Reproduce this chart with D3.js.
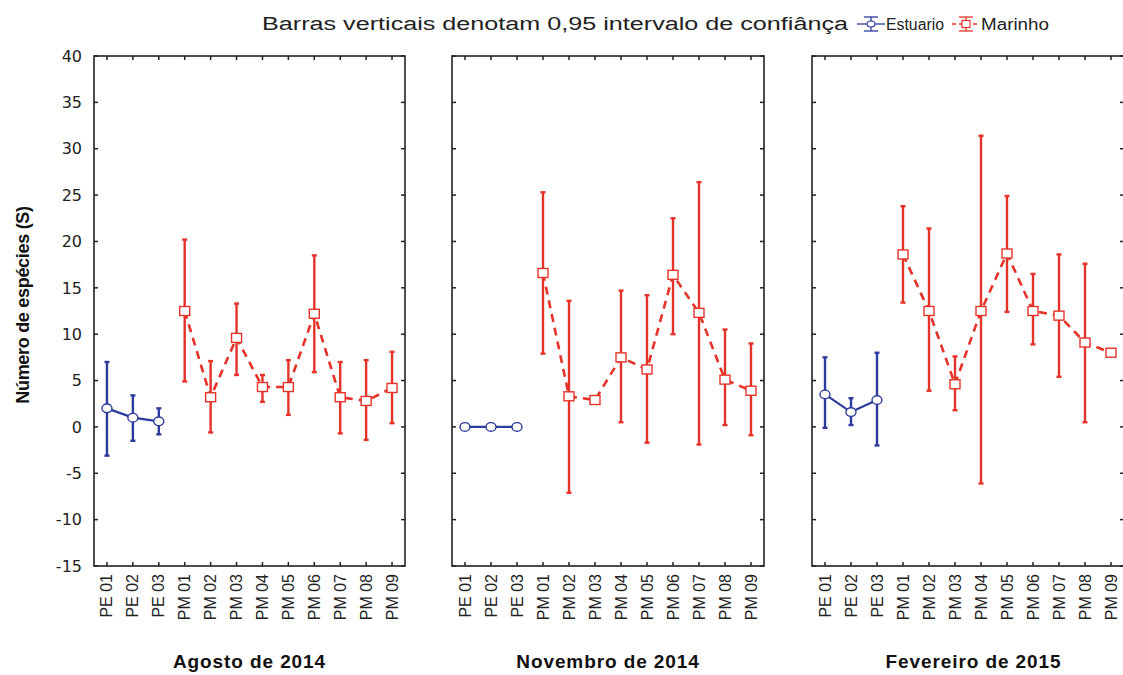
<!DOCTYPE html>
<html>
<head>
<meta charset="utf-8">
<script src="https://cdn.jsdelivr.net/npm/d3@7"></script>
<style>
  html, body { margin: 0; padding: 0; background: #fff; }
  svg { display: block; }
</style>
</head>
<body>
<svg id="chart" width="1123" height="675"></svg>
<script>
// ---------- data ----------
const categories = ["PE 01","PE 02","PE 03","PM 01","PM 02","PM 03","PM 04","PM 05","PM 06","PM 07","PM 08","PM 09"];
const estuarioCats = ["PE 01","PE 02","PE 03"];
const marinhoCats = ["PM 01","PM 02","PM 03","PM 04","PM 05","PM 06","PM 07","PM 08","PM 09"];
const periods = ["Agosto de 2014","Novembro de 2014","Fevereiro de 2015"];
const yTicks = [40,35,30,25,20,15,10,5,0,-5,-10,-15];

// Agosto de 2014
const agoEstMean = [2.0, 1.0, 0.6];
const agoEstLow  = [-3.1, -1.5, -0.8];
const agoEstHigh = [7.0, 3.4, 2.0];
const agoMarMean = [12.5, 3.2, 9.6, 4.3, 4.3, 12.2, 3.2, 2.8, 4.2];
const agoMarLow  = [4.9, -0.6, 5.6, 2.7, 1.3, 5.9, -0.7, -1.4, 0.4];
const agoMarHigh = [20.2, 7.1, 13.3, 5.6, 7.2, 18.5, 7.0, 7.2, 8.1];

// Novembro de 2014
const novEstMean = [0, 0, 0];
const novEstLow  = [0, 0, 0];
const novEstHigh = [0, 0, 0];
const novMarMean = [16.6, 3.3, 2.9, 7.5, 6.2, 16.4, 12.3, 5.1, 3.9];
const novMarLow  = [7.9, -7.1, 2.9, 0.5, -1.7, 10.0, -1.9, 0.2, -0.9];
const novMarHigh = [25.3, 13.6, 2.9, 14.7, 14.2, 22.5, 26.4, 10.5, 9.0];

// Fevereiro de 2015
const fevEstMean = [3.5, 1.6, 2.9];
const fevEstLow  = [-0.1, 0.2, -2.0];
const fevEstHigh = [7.5, 3.1, 8.0];
const fevMarMean = [18.6, 12.5, 4.6, 12.5, 18.7, 12.5, 12.0, 9.1, 8.0];
const fevMarLow  = [13.4, 3.9, 1.8, -6.1, 12.4, 8.9, 5.4, 0.5, 8.0];
const fevMarHigh = [23.8, 21.4, 7.6, 31.4, 24.9, 16.5, 18.6, 17.6, 8.0];

const estMeans = [agoEstMean, novEstMean, fevEstMean];
const estLows  = [agoEstLow, novEstLow, fevEstLow];
const estHighs = [agoEstHigh, novEstHigh, fevEstHigh];
const marMeans = [agoMarMean, novMarMean, fevMarMean];
const marLows  = [agoMarLow, novMarLow, fevMarLow];
const marHighs = [agoMarHigh, novMarHigh, fevMarHigh];

// ---------- layout ----------
const BLUE = "#2c3c9c";
const RED = "#e5332a";
const panelX = [[94, 405], [452, 764], [812, 1124]];
const plotTop = 56, plotBottom = 566;
const svg = d3.select("#chart");

const y = d3.scaleLinear().domain([-15, 40]).range([plotBottom, plotTop]);

// y tick labels (left of first panel)
svg.append("g")
  .selectAll("text").data(yTicks).join("text")
  .attr("x", 82).attr("y", d => y(d)).attr("dy", "0.36em")
  .attr("text-anchor", "end")
  .attr("font-family", "'DejaVu Sans', sans-serif")
  .attr("font-size", 16).attr("fill", "#222")
  .text(d => d);

// y-axis title
svg.append("text")
  .attr("transform", `translate(29,${(plotTop + plotBottom) / 2 - 6}) rotate(-90)`)
  .attr("text-anchor", "middle")
  .attr("font-family", "'Liberation Sans', Arial, sans-serif")
  .attr("font-weight", "bold").attr("font-size", 18).attr("fill", "#111")
  .attr("letter-spacing", -0.3)
  .text("Número de espécies (S)");

periods.forEach((p, i) => {
  const [x0, x1] = panelX[i];
  const x = d3.scalePoint().domain(categories).range([x0, x1]).padding(0.5);
  const g = svg.append("g");

  // frame
  g.append("rect").attr("x", x0).attr("y", plotTop).attr("width", x1 - x0).attr("height", plotBottom - plotTop)
    .attr("fill", "none").attr("stroke", "#222").attr("stroke-width", 1.6);

  // inward ticks: top/bottom at categories
  const tl = 4;
  g.append("g").selectAll("line").data(categories).join("line")
    .attr("x1", d => x(d)).attr("x2", d => x(d)).attr("y1", plotTop).attr("y2", plotTop + tl)
    .attr("stroke", "#222").attr("stroke-width", 1.5);
  g.append("g").selectAll("line").data(categories).join("line")
    .attr("x1", d => x(d)).attr("x2", d => x(d)).attr("y1", plotBottom).attr("y2", plotBottom - tl)
    .attr("stroke", "#222").attr("stroke-width", 1.5);
  // inward ticks: left/right at y values
  g.append("g").selectAll("line").data(yTicks).join("line")
    .attr("x1", x0).attr("x2", x0 + tl).attr("y1", d => y(d)).attr("y2", d => y(d))
    .attr("stroke", "#222").attr("stroke-width", 1.5);
  g.append("g").selectAll("line").data(yTicks).join("line")
    .attr("x1", x1).attr("x2", x1 - tl).attr("y1", d => y(d)).attr("y2", d => y(d))
    .attr("stroke", "#222").attr("stroke-width", 1.5);

  // x labels (rotated)
  g.append("g").selectAll("text").data(categories).join("text")
    .attr("transform", d => `translate(${x(d) + 5.5},${plotBottom + 8}) rotate(-90)`)
    .attr("text-anchor", "end")
    .attr("font-family", "'Liberation Sans', Arial, sans-serif")
    .attr("font-size", 16).attr("fill", "#222")
    .text(d => d);

  // panel title
  g.append("text")
    .attr("x", (x0 + Math.min(x1, 1123)) / 2 + (i === 2 ? 6 : 0)).attr("y", 668)
    .attr("text-anchor", "middle")
    .attr("font-family", "'Liberation Sans', Arial, sans-serif")
    .attr("font-weight", "bold").attr("font-size", 19).attr("fill", "#111")
    .attr("letter-spacing", 0.9)
    .text(p);

  const est = estuarioCats.map((c, k) => ({c, m: estMeans[i][k], lo: estLows[i][k], hi: estHighs[i][k]}));
  const mar = marinhoCats.map((c, k) => ({c, m: marMeans[i][k], lo: marLows[i][k], hi: marHighs[i][k]}));

  const drawErr = (data, color) => {
    const eg = g.append("g").attr("stroke", color).attr("stroke-width", 2.4);
    data.filter(d => d.hi - d.lo > 0.05).forEach(d => {
      eg.append("line").attr("x1", x(d.c)).attr("x2", x(d.c)).attr("y1", y(d.lo)).attr("y2", y(d.hi));
      eg.append("line").attr("x1", x(d.c) - 2.5).attr("x2", x(d.c) + 2.5).attr("y1", y(d.lo)).attr("y2", y(d.lo));
      eg.append("line").attr("x1", x(d.c) - 2.5).attr("x2", x(d.c) + 2.5).attr("y1", y(d.hi)).attr("y2", y(d.hi));
    });
  };
  drawErr(est, BLUE);
  drawErr(mar, RED);

  const line = d3.line().x(d => x(d.c)).y(d => y(d.m));
  g.append("path").datum(est).attr("d", line)
    .attr("fill", "none").attr("stroke", BLUE).attr("stroke-width", 2.2);
  g.append("path").datum(mar).attr("d", line)
    .attr("fill", "none").attr("stroke", RED).attr("stroke-width", 2.6)
    .attr("stroke-dasharray", "8,6");

  g.append("g").selectAll("ellipse").data(est).join("ellipse")
    .attr("cx", d => x(d.c)).attr("cy", d => y(d.m)).attr("rx", 5).attr("ry", 4.3)
    .attr("fill", "#fff").attr("stroke", BLUE).attr("stroke-width", 1.4);
  g.append("g").selectAll("rect").data(mar).join("rect")
    .attr("x", d => x(d.c) - 5).attr("y", d => y(d.m) - 4.5).attr("width", 10).attr("height", 9)
    .attr("fill", "#fff").attr("stroke", RED).attr("stroke-width", 1.4);
});

// header / legend
svg.append("text")
  .attr("x", 262).attr("y", 30)
  .attr("font-family", "'Liberation Sans', Arial, sans-serif")
  .attr("font-size", 18).attr("fill", "#222")
  .attr("textLength", 586).attr("lengthAdjust", "spacingAndGlyphs")
  .text("Barras verticais denotam 0,95 intervalo de confiânça");

const legendItems = [
  {name: "Estuario", color: BLUE, shape: "circle", dash: null, x: 857, w: 58},
  {name: "Marinho", color: RED, shape: "square", dash: "4,3", x: 952, w: 68}
];
legendItems.forEach(it => {
  const lg = svg.append("g");
  const cx = it.x + 14, cy = 24;
  lg.append("line").attr("x1", it.x).attr("x2", it.x + 28).attr("y1", cy).attr("y2", cy)
    .attr("stroke", it.color).attr("stroke-width", 1.3).attr("stroke-dasharray", it.dash);
  lg.append("line").attr("x1", cx).attr("x2", cx).attr("y1", cy - 7).attr("y2", cy + 7)
    .attr("stroke", it.color).attr("stroke-width", 1.3);
  lg.append("line").attr("x1", cx - 7).attr("x2", cx + 7).attr("y1", cy - 7).attr("y2", cy - 7)
    .attr("stroke", it.color).attr("stroke-width", 1.3);
  lg.append("line").attr("x1", cx - 7).attr("x2", cx + 7).attr("y1", cy + 7).attr("y2", cy + 7)
    .attr("stroke", it.color).attr("stroke-width", 1.3);
  if (it.shape === "circle") {
    lg.append("ellipse").attr("cx", cx).attr("cy", cy).attr("rx", 4).attr("ry", 3)
      .attr("fill", "#fff").attr("stroke", it.color).attr("stroke-width", 1.2);
  } else {
    lg.append("rect").attr("x", cx - 4).attr("y", cy - 3.5).attr("width", 8).attr("height", 7)
      .attr("fill", "#fff").attr("stroke", it.color).attr("stroke-width", 1.2);
  }
  lg.append("text").attr("x", it.x + 29).attr("y", 30)
    .attr("font-family", "'Liberation Sans', Arial, sans-serif")
    .attr("font-size", 16).attr("fill", "#222")
    .attr("textLength", it.w).attr("lengthAdjust", "spacingAndGlyphs")
    .text(it.name);
});
</script>
</body>
</html>
